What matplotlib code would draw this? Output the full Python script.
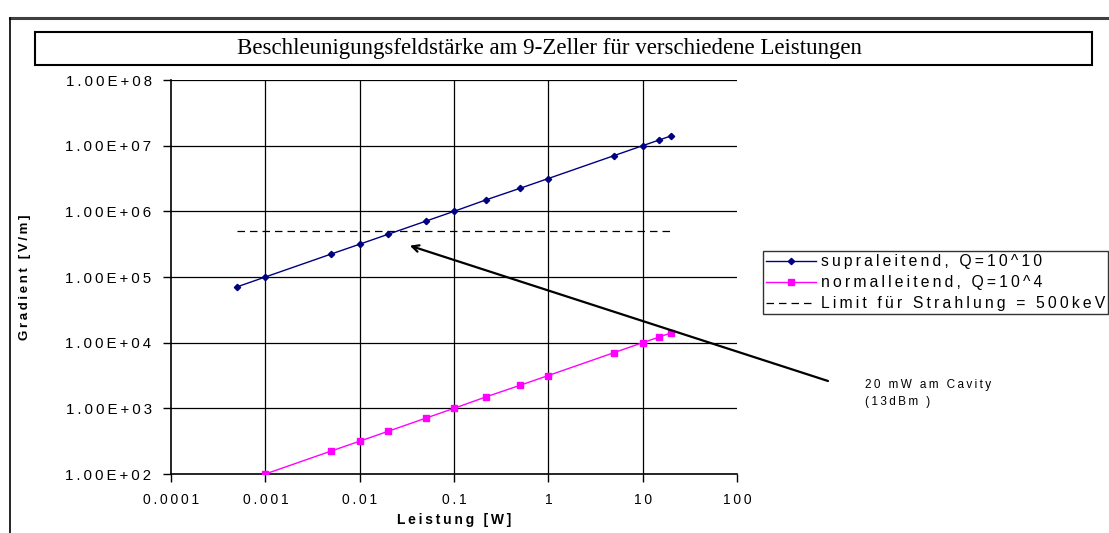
import matplotlib
matplotlib.use("Agg")
import matplotlib.pyplot as plt
from matplotlib.patches import Rectangle
from matplotlib.lines import Line2D
from matplotlib.ticker import FixedLocator, FixedFormatter, NullLocator

plt.rcParams['font.family'] = ['Liberation Sans', 'DejaVu Sans']

# data
leistung = [0.0005, 0.001, 0.005, 0.01, 0.02, 0.05, 0.1, 0.22, 0.5, 1, 5, 10, 15, 20]
grad_supra = [7.07e4, 1.0e5, 2.24e5, 3.16e5, 4.47e5, 7.07e5, 1.0e6, 1.5e6,
              2.24e6, 3.16e6, 7.07e6, 1.0e7, 1.22e7, 1.41e7]
grad_normal = [70.7, 100, 224, 316, 447, 707, 1000, 1500,
               2240, 3160, 7070, 10000, 12200, 14100]
limit_x = [0.0005, 20]
limit_y = [5e5, 5e5]

x_ticks = [1e-4, 1e-3, 1e-2, 1e-1, 1, 10, 100]
x_labels = ['0.0001', '0.001', '0.01', '0.1', '1', '10', '100']
y_ticks = [1e2, 1e3, 1e4, 1e5, 1e6, 1e7, 1e8]
y_labels = ['1.00E+02', '1.00E+03', '1.00E+04', '1.00E+05', '1.00E+06', '1.00E+07', '1.00E+08']

title = 'Beschleunigungsfeldstärke am 9-Zeller für verschiedene Leistungen'
labels = ['supraleitend, Q=10^10', 'normalleitend, Q=10^4', 'Limit für Strahlung = 500keV']
note = ['20 mW am Cavity', '(13dBm )']


def sp(s):
    # excel-like wide letter spacing
    return '\u2009'.join(s)


W, H = 1109, 533
fig = plt.figure(figsize=(W / 100, H / 100), dpi=100)

# outer frame of the embedded chart
fig.add_artist(Line2D([10 / W, 1.0], [1 - 18 / H, 1 - 18 / H], color='#404040', lw=2.2))
fig.add_artist(Line2D([10 / W, 10 / W], [0, 1 - 18 / H], color='black', lw=1.2))

# title box
fig.add_artist(Rectangle((35 / W, 1 - 65 / H), (1092 - 35) / W, 33 / H,
                         fill=False, edgecolor='black', lw=1.5))
fig.text(549 / W, 1 - 48.5 / H, title, family=['Liberation Serif', 'DejaVu Serif'],
         fontsize=16.5, ha='center', va='center')

ax = fig.add_axes([171 / W, 1 - 474 / H, 566 / W, 394 / H])
ax.set_xscale('log')
ax.set_yscale('log')
ax.set_xlim(1e-4, 100)
ax.set_ylim(1e2, 1e8)

for v in x_ticks[1:-1]:
    ax.axvline(v, color='black', lw=0.9, zorder=1)
for v in y_ticks[1:]:
    ax.axhline(v, color='black', lw=0.9, zorder=1)

ax.plot(leistung, grad_supra, color='#000080', lw=1, marker='D', ms=3.2,
        label=sp(labels[0]), zorder=3)
ax.plot(leistung, grad_normal, color='#FF00FF', lw=1, marker='s', ms=5,
        label=sp(labels[1]), zorder=3)
ax.plot(limit_x, limit_y, color='black', lw=0.9, ls=(0, (6, 4)),
        label=sp(labels[2]), zorder=2)

ax.xaxis.set_major_locator(FixedLocator(x_ticks))
ax.xaxis.set_major_formatter(FixedFormatter([sp(t) for t in x_labels]))
ax.xaxis.set_minor_locator(NullLocator())
ax.yaxis.set_major_locator(FixedLocator(y_ticks))
ax.yaxis.set_major_formatter(FixedFormatter([sp(t) for t in y_labels]))
ax.yaxis.set_minor_locator(NullLocator())
ax.tick_params(direction='out', length=6, width=1, pad=8)
ax.tick_params(axis='y', labelsize=10.8)
ax.tick_params(axis='x', labelsize=10)

for s in ['top', 'right']:
    ax.spines[s].set_visible(False)
for s in ['left', 'bottom']:
    ax.spines[s].set_linewidth(1.2)

fig.text(25 / W, 1 - 277 / H, sp('Gradient [V/m]'), rotation=90, ha='center', va='center',
         fontsize=9.5, fontweight='bold')
fig.text(454 / W, 1 - 520 / H, sp('Leistung [W]'), ha='center', va='center',
         fontsize=10, fontweight='bold')

# arrow to the 20 mW point
ax.annotate('', xy=(0.034, 3.0e5), xycoords='data',
            xytext=((828 - 171) / 566, (474 - 381) / 394), textcoords='axes fraction',
            arrowprops=dict(arrowstyle='->', color='black', lw=1.6,
                            mutation_scale=12, shrinkA=0, shrinkB=0),
            annotation_clip=False)
fig.text(865 / W, 1 - 385 / H, sp(note[0]), fontsize=8.5, ha='left', va='center')
fig.text(865 / W, 1 - 402 / H, sp(note[1]), fontsize=8.5, ha='left', va='center')

leg = ax.legend(loc='upper left', bbox_to_anchor=(763 / W, 1 - 251 / H),
                bbox_transform=fig.transFigure, fontsize=11.3, frameon=True,
                fancybox=False, borderaxespad=0, handlelength=3.2,
                handletextpad=0.3, borderpad=0.2, labelspacing=0.38)
leg.get_frame().set_edgecolor('black')
leg.get_frame().set_linewidth(1.0)

fig.savefig('out.png', dpi=100)
